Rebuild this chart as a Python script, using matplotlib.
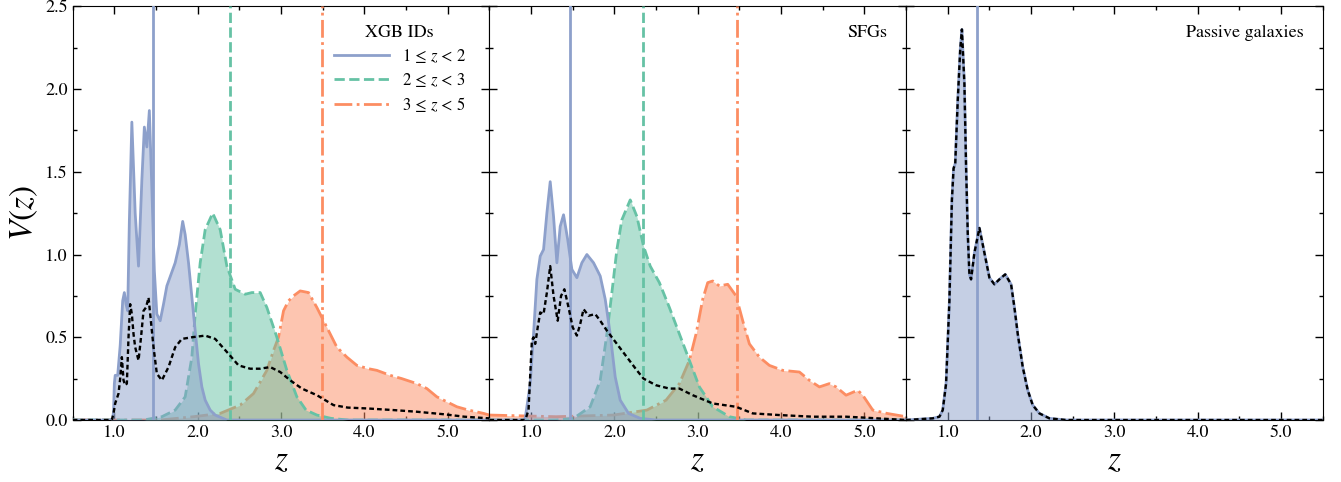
import numpy as np
import matplotlib
matplotlib.use("Agg")
import matplotlib.pyplot as plt
from matplotlib.ticker import MultipleLocator

plt.rcParams['font.family'] = 'STIXGeneral'
plt.rcParams['mathtext.fontset'] = 'stix'

blue = '#8da0cb'
green = '#66c2a5'
orange = '#fc8d62'

# ---- panel 1: XGB IDs ----
z_b1 = [0.5, 0.95, 0.98, 0.99, 1.00, 1.01, 1.04, 1.07, 1.10, 1.12, 1.14, 1.16, 1.18, 1.21, 1.25,
        1.29, 1.33, 1.36, 1.39, 1.42, 1.45, 1.48, 1.51, 1.55, 1.59, 1.63, 1.68, 1.73, 1.78, 1.82,
        1.85, 1.89, 1.95, 2.01, 2.05, 2.09, 2.15, 2.21, 2.35, 5.5]
v_b1 = [0.0, 0.0, 0.01, 0.05, 0.22, 0.27, 0.27, 0.45, 0.72, 0.77, 0.70, 0.66, 1.20, 1.80, 1.25,
        0.93, 1.45, 1.77, 1.65, 1.87, 1.40, 0.90, 0.64, 0.60, 0.70, 0.81, 0.88, 0.95, 1.06, 1.20,
        1.12, 0.95, 0.64, 0.34, 0.20, 0.12, 0.06, 0.03, 0.0, 0.0]

z_g1 = [0.5, 1.35, 1.57, 1.73, 1.85, 1.93, 1.97, 2.03, 2.09, 2.18, 2.27, 2.35, 2.45, 2.57, 2.65,
        2.75, 2.83, 2.95, 3.07, 3.19, 3.30, 3.43, 3.6, 3.8, 5.5]
v_g1 = [0.0, 0.0, 0.02, 0.06, 0.14, 0.38, 0.64, 0.95, 1.15, 1.25, 1.15, 0.93, 0.79, 0.76, 0.77,
        0.77, 0.68, 0.50, 0.30, 0.14, 0.06, 0.03, 0.01, 0.0, 0.0]

z_o1 = [0.5, 1.55, 1.95, 2.27, 2.51, 2.67, 2.83, 2.91, 2.97, 3.03, 3.09, 3.15, 3.23, 3.33, 3.43,
        3.49, 3.59, 3.67, 3.79, 3.91, 4.05, 4.15, 4.31, 4.45, 4.63, 4.75, 4.87, 4.99, 5.11, 5.25,
        5.43, 5.5]
v_o1 = [0.0, 0.0, 0.02, 0.04, 0.09, 0.16, 0.30, 0.42, 0.50, 0.66, 0.72, 0.75, 0.78, 0.77, 0.68,
        0.62, 0.52, 0.44, 0.38, 0.33, 0.31, 0.30, 0.27, 0.25, 0.22, 0.19, 0.14, 0.11, 0.08, 0.06,
        0.04, 0.03]

z_k1 = [0.5, 0.97, 0.99, 1.01, 1.05, 1.07, 1.09, 1.11, 1.13, 1.15, 1.17, 1.19, 1.21, 1.23, 1.25,
        1.29, 1.32, 1.35, 1.38, 1.41, 1.43, 1.47, 1.51, 1.57, 1.65, 1.73, 1.81, 1.93, 2.09, 2.21,
        2.37, 2.49, 2.63, 2.75, 2.87, 2.99, 3.11, 3.25, 3.43, 3.63, 3.80, 4.03, 4.35, 4.63, 4.95,
        5.2, 5.5]
v_k1 = [0.0, 0.0, 0.04, 0.10, 0.16, 0.25, 0.38, 0.24, 0.21, 0.22, 0.50, 0.70, 0.64, 0.52, 0.44,
        0.36, 0.50, 0.66, 0.68, 0.74, 0.64, 0.44, 0.28, 0.24, 0.32, 0.44, 0.49, 0.50, 0.51, 0.49,
        0.40, 0.33, 0.31, 0.31, 0.32, 0.29, 0.24, 0.19, 0.15, 0.09, 0.075, 0.07, 0.06, 0.05, 0.035,
        0.02, 0.01]

# ---- panel 2: SFGs ----
z_b2 = [0.5, 0.90, 0.93, 0.99, 1.03, 1.07, 1.11, 1.15, 1.19, 1.23, 1.27, 1.31, 1.35, 1.39, 1.44,
        1.49, 1.55, 1.61, 1.67, 1.75, 1.83, 1.89, 1.95, 2.01, 2.07, 2.17, 2.31, 2.5, 5.5]
v_b2 = [0.0, 0.0, 0.01, 0.22, 0.52, 0.85, 0.99, 1.03, 1.25, 1.44, 1.23, 0.95, 1.17, 1.24, 1.09,
        0.91, 0.86, 0.95, 1.00, 0.95, 0.87, 0.73, 0.52, 0.26, 0.12, 0.04, 0.01, 0.0, 0.0]

z_g2 = [0.5, 1.3, 1.51, 1.71, 1.83, 1.91, 1.97, 2.03, 2.09, 2.19, 2.27, 2.35, 2.43, 2.54, 2.66,
        2.78, 2.90, 3.02, 3.18, 3.38, 3.58, 5.5]
v_g2 = [0.0, 0.0, 0.01, 0.08, 0.24, 0.52, 0.77, 1.03, 1.21, 1.33, 1.23, 1.05, 0.93, 0.83, 0.68,
        0.52, 0.36, 0.20, 0.08, 0.02, 0.0, 0.0]

z_o2 = [0.5, 1.3, 1.99, 2.39, 2.62, 2.78, 2.90, 2.98, 3.06, 3.12, 3.18, 3.26, 3.36, 3.46, 3.54,
        3.62, 3.74, 3.86, 4.02, 4.22, 4.34, 4.46, 4.58, 4.66, 4.78, 4.92, 4.98, 5.10, 5.27, 5.5]
v_o2 = [0.03, 0.02, 0.03, 0.06, 0.12, 0.22, 0.36, 0.52, 0.73, 0.83, 0.84, 0.81, 0.82, 0.75, 0.60,
        0.46, 0.38, 0.33, 0.30, 0.29, 0.24, 0.20, 0.22, 0.20, 0.15, 0.18, 0.15, 0.06, 0.04, 0.02]

z_k2 = [0.5, 0.90, 0.93, 0.97, 1.01, 1.03, 1.05, 1.08, 1.11, 1.15, 1.19, 1.23, 1.27, 1.32, 1.36,
        1.40, 1.45, 1.50, 1.55, 1.59, 1.63, 1.69, 1.77, 1.83, 1.91, 2.03, 2.15, 2.27, 2.35, 2.50,
        2.66, 2.78, 2.94, 3.18, 3.46, 3.66, 3.98, 4.38, 4.78, 4.98, 5.5]
v_k2 = [0.0, 0.0, 0.0, 0.06, 0.48, 0.50, 0.46, 0.56, 0.65, 0.64, 0.77, 0.93, 0.75, 0.60, 0.75,
        0.79, 0.68, 0.56, 0.51, 0.58, 0.67, 0.63, 0.64, 0.60, 0.54, 0.46, 0.38, 0.30, 0.25, 0.21,
        0.19, 0.19, 0.15, 0.10, 0.08, 0.04, 0.03, 0.02, 0.02, 0.015, 0.0]

# ---- panel 3: passive galaxies ----
z_p = [0.5, 0.82, 0.90, 0.94, 0.98, 1.02, 1.05, 1.07, 1.09, 1.12, 1.15, 1.17, 1.20, 1.22, 1.24,
       1.26, 1.28, 1.32, 1.38, 1.44, 1.50, 1.56, 1.62, 1.69, 1.76, 1.80, 1.84, 1.90, 1.96, 2.02,
       2.10, 2.22, 2.42, 5.5]
v_p = [0.0, 0.01, 0.02, 0.06, 0.22, 0.72, 1.33, 1.52, 1.55, 1.93, 2.24, 2.36, 2.03, 1.53, 1.13,
       0.88, 0.85, 1.01, 1.16, 1.01, 0.86, 0.82, 0.85, 0.88, 0.82, 0.68, 0.52, 0.32, 0.18, 0.09,
       0.04, 0.01, 0.0, 0.0]

# median redshift lines
med1 = [1.46, 2.39, 3.49]
med2 = [1.47, 2.345, 3.475]
med3 = [1.35]

labels = ['1 ≤ $z$ < 2', '2 ≤ $z$ < 3', '3 ≤ $z$ < 5']
styles = ['-', '--', '-.']
colors = [blue, green, orange]

fig, axes = plt.subplots(1, 3, figsize=(13.41, 4.82), dpi=100, sharey=True)
fig.subplots_adjust(left=0.0542, right=0.9864, top=0.987, bottom=0.1286, wspace=0)

panels = [
    ([(z_b1, v_b1), (z_g1, v_g1), (z_o1, v_o1)], (z_k1, v_k1), med1),
    ([(z_b2, v_b2), (z_g2, v_g2), (z_o2, v_o2)], (z_k2, v_k2), med2),
    ([(z_p, v_p)], (z_p, v_p), med3),
]

for ax, (curves, black, meds) in zip(axes, panels):
    # draw high-z first so the low-z fill ends up on top
    for i in reversed(range(len(curves))):
        zz, vv = curves[i]
        ax.fill_between(zz, vv, 0, color=colors[i], alpha=0.5, lw=0, zorder=1 + 3 - i)
        ax.plot(zz, vv, color=colors[i], ls=styles[i], lw=2.0, label=labels[i], zorder=1 + 3 - i)
    for i, m in enumerate(meds):
        ax.axvline(m, color=colors[i], ls=styles[i], lw=2.0, zorder=5)
    ax.plot(black[0], black[1], color='k', lw=1.7, dashes=(2.0, 1.3), zorder=6)

    ax.set_xlim(0.5, 5.5)
    ax.set_ylim(0, 2.5)
    ax.xaxis.set_minor_locator(MultipleLocator(0.5))
    ax.yaxis.set_major_locator(MultipleLocator(0.5))
    ax.yaxis.set_minor_locator(MultipleLocator(0.25))
    ax.set_xticks([1, 2, 3, 4, 5])
    ax.set_xticklabels(['1.0', '2.0', '3.0', '4.0', '5.0'])
    ax.tick_params(which='both', direction='in', top=True, right=True, labelsize=13)
    ax.tick_params(which='major', length=6, width=1)
    ax.tick_params(which='minor', length=3, width=1)
    ax.set_xlabel(r'$z$', fontsize=24, labelpad=4)

axes[0].yaxis.set_major_formatter(matplotlib.ticker.FormatStrFormatter('%.1f'))
axes[0].set_ylabel(r'$V(z)$', fontsize=24, labelpad=4)

h, l = axes[0].get_legend_handles_labels()
order = [l.index(s) for s in labels]
leg = axes[0].legend([h[k] for k in order], labels, loc='upper right', frameon=False, fontsize=12,
                     title='XGB IDs', title_fontsize=13, handlelength=3.3, labelspacing=0.35,
                     bbox_to_anchor=(0.98, 0.99))
axes[1].text(0.955, 0.935, 'SFGs', transform=axes[1].transAxes, ha='right', va='center', fontsize=13)
axes[2].text(0.955, 0.935, 'Passive galaxies', transform=axes[2].transAxes, ha='right', va='center',
             fontsize=13)

fig.savefig('out.png', dpi=100)
